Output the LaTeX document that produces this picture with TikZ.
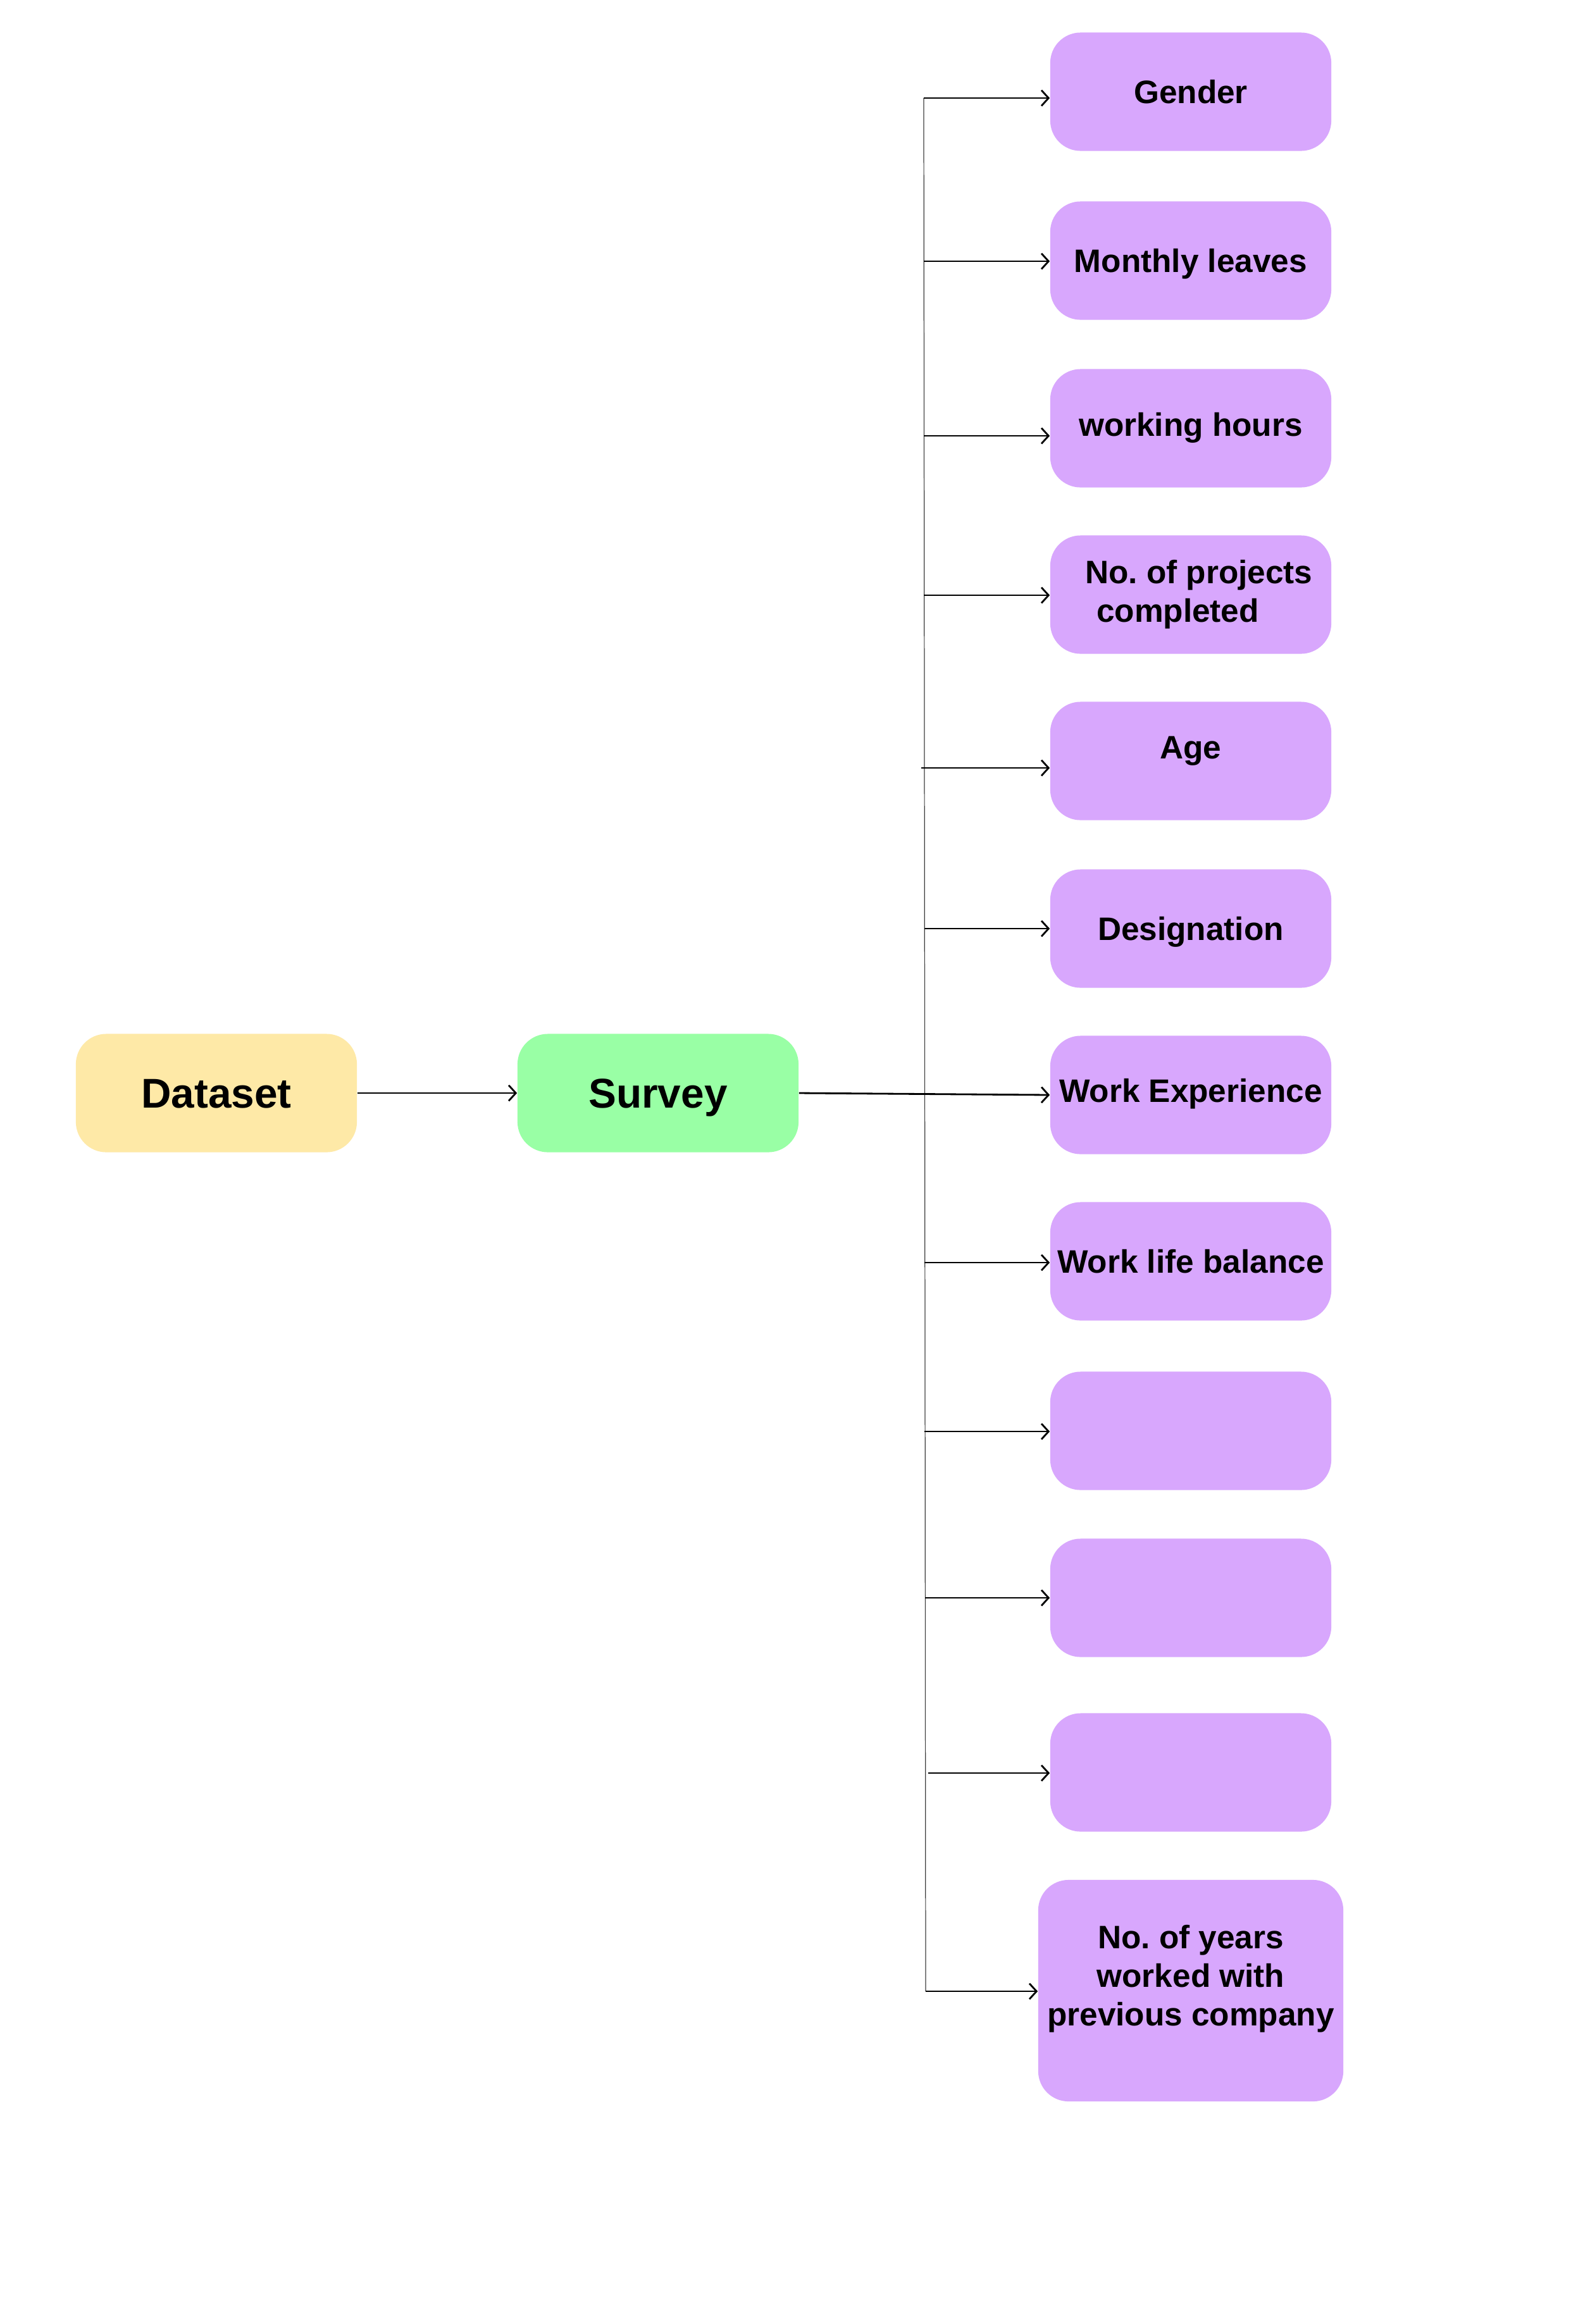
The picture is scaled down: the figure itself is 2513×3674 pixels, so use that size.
\documentclass[tikz,border=0pt]{standalone}
\usepackage{fontspec}
\setmainfont{Liberation Sans}
\frenchspacing
\usetikzlibrary{arrows.meta}
\definecolor{lilac}{HTML}{D8A7FD}
\definecolor{sand}{HTML}{FEE9A7}
\definecolor{mint}{HTML}{99FFA5}
\tikzset{box/.style={
        fill=#1, rounded corners=0.48cm,
        minimum width=4.44cm, minimum height=1.87cm,
        inner sep=0pt, align=center,
        font=\fontsize{14.6}{17.4}\selectfont\bfseries
    },
    field/.style={box=lilac},
    oneline/.style={text height=10.45pt, text depth=#1},
    oneline/.default=0pt,
    big/.style={font=\fontsize{18.7}{22}\selectfont\bfseries,
        text height=13.4pt, text depth=0pt},
    label text/.style={inner sep=0pt, align=center,
        font=\fontsize{14.6}{17.4}\selectfont\bfseries},
    link/.style={-{Straight Barb[length=3.2pt,width=7pt]}, line width=0.8pt},
    trunk/.style={line width=0.35pt, black!75}
}

\begin{document}
\begin{tikzpicture}[x=0.01cm,y=-0.01cm]
        \fill[white] (0,0) rectangle (2513,3674);
        \node[box=sand, big] (dataset) at (342,1728) {Dataset};
        \node[box=mint, big] (survey) at (1040,1728) {Survey};
        \node[field, oneline] (gender) at (1882,145) {Gender};
        \node[field, oneline] (leaves) at (1882,412) {Monthly leaves};
        \node[field, oneline=3.4pt] (hours) at (1882,677) {working hours};
        \node[field, align=left] (projects) at (1882,940) {\hspace*{0.5em}No. of projects\\\hspace*{0.85em}completed};
        \node[field, oneline=12.5pt] (age) at (1882,1203) {Age};
        \node[field, oneline] (designation) at (1882,1468) {Designation};
        \node[field, oneline=4pt] (experience) at (1882,1731) {Work Experience};
        \node[field, oneline] (balance) at (1882,1994) {Work life balance};
        \node[field] (blanka) at (1882,2262) {};
        \node[field] (blankb) at (1882,2526) {};
        \node[field] (blankc) at (1882,2802) {};
        \node[field, minimum width=4.82cm, minimum height=3.5cm] (years) at (1882,3147) {};
        \node[label text, yshift=0.19cm] (yearstext) at (years.center) {No. of years\\worked with\\previous company};
        \coordinate (ttop) at (1460,155);
        \coordinate (tbot) at (1463,3148);
        \coordinate (tleaves) at (1460,413);
        \coordinate (thours) at (1460,689);
        \coordinate (tprojects) at (1460,941);
        \coordinate (tage) at (1456,1214);
        \coordinate (tdesignation) at (1461,1468);
        \coordinate (tbalance) at (1461,1996);
        \coordinate (tblanka) at (1461,2263);
        \coordinate (tblankb) at (1462,2526);
        \coordinate (tblankc) at (1467,2803);
        \draw[trunk] (ttop) -- (tbot);
        \draw[link] (dataset.east) -- (survey.west);
        \draw[link] (survey.east) -- (experience.west);
        \draw[link] (ttop) -- (ttop -| gender.west);
        \draw[link] (tleaves) -- (tleaves -| leaves.west);
        \draw[link] (thours) -- (thours -| hours.west);
        \draw[link] (tprojects) -- (tprojects -| projects.west);
        \draw[link] (tage) -- (tage -| age.west);
        \draw[link] (tdesignation) -- (tdesignation -| designation.west);
        \draw[link] (tbalance) -- (tbalance -| balance.west);
        \draw[link] (tblanka) -- (tblanka -| blanka.west);
        \draw[link] (tblankb) -- (tblankb -| blankb.west);
        \draw[link] (tblankc) -- (tblankc -| blankc.west);
        \draw[link] (tbot) -- (tbot -| years.west);
    \end{tikzpicture}
\end{document}
